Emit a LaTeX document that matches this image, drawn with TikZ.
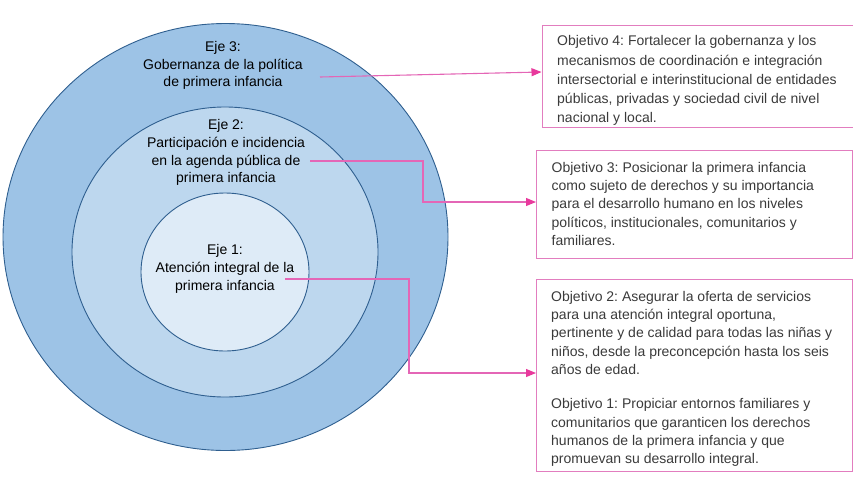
\documentclass[tikz,border=0pt]{standalone}
\usepackage{fontspec}
\setmainfont{Liberation Sans}
\usetikzlibrary{arrows.meta}
\frenchspacing
\definecolor{ring3}{HTML}{9DC3E6}
\definecolor{ring2}{HTML}{BDD7EE}
\definecolor{ring1}{HTML}{DEEBF7}
\definecolor{ringline}{HTML}{2F5F8F}
\definecolor{pinkline}{HTML}{E466B6}
\definecolor{pinktip}{HTML}{E8399C}
\definecolor{boxline}{HTML}{E27DBF}
\definecolor{objtext}{HTML}{3A3A3A}
\tikzset{
  ring/.style={draw=ringline, line width=0.9pt},
  ejetext/.style={align=center, text=black, font=\fontsize{14}{17.8}\selectfont, inner sep=0pt},
  objbox/.style={draw=boxline, line width=0.8pt, anchor=north west, inner sep=0pt},
  objtxt/.style={anchor=west, align=left, text=objtext, font=\fontsize{14}{18.2}\selectfont, inner sep=0pt},
  link/.style={draw=pinkline, line width=1.1pt, -{Triangle[length=10pt,width=8pt,color=pinktip]}}
}
\begin{document}
\begin{tikzpicture}[x=1pt, y=-1pt]
\useasboundingbox (0,0) rectangle (853,480);
% rings
\path[ring, fill=ring3] (225.5,237) ellipse [x radius=222.5, y radius=213.5];
\path[ring, fill=ring2] (225,252) ellipse [x radius=153, y radius=145];
\path[ring, fill=ring1] (225,272) ellipse [x radius=84, y radius=79];
% axis labels
\node[ejetext] (e3) at (223,65.5) {Eje 3:\\Gobernanza de la política\\de primera infancia};
\node[ejetext] (e2) at (226,152.5) {Eje 2:\\Participación e incidencia\\en la agenda pública de\\primera infancia};
\node[ejetext] (e1) at (225,269) {Eje 1:\\Atención integral de la\\primera infancia};
% objective boxes
\node[objbox, minimum width=311pt, minimum height=102pt] (o4) at (541.5,25) {};
\node[objbox, minimum width=316pt, minimum height=108pt] (o3) at (536,150) {};
\node[objbox, minimum width=316pt, minimum height=192pt] (o21) at (536,279) {};
\node[objtxt, font=\fontsize{14}{19.2}\selectfont] (o4t) at ([xshift=15.5pt,yshift=-4.3pt]o4.west)
  {Objetivo 4: Fortalecer la gobernanza y los\\mecanismos de coordinación e integración\\intersectorial e interinstitucional de entidades\\públicas, privadas y sociedad civil de nivel\\nacional y local.};
\node[objtxt] (o3t) at ([xshift=15.5pt,yshift=0.5pt]o3.west)
  {Objetivo 3: Posicionar la primera infancia\\como sujeto de derechos y su importancia\\para el desarrollo humano en los niveles\\políticos, institucionales, comunitarios y\\familiares.};
\node[objtxt] (o21t) at ([xshift=15pt,yshift=-3.5pt]o21.west)
  {Objetivo 2: Asegurar la oferta de servicios\\para una atención integral oportuna,\\pertinente y de calidad para todas las niñas y\\niños, desde la preconcepción hasta los seis\\años de edad.\\[16.5pt]Objetivo 1: Propiciar entornos familiares y\\comunitarios que garanticen los derechos\\humanos de la primera infancia y que\\promuevan su desarrollo integral.};
% connector anchors
\coordinate (s3) at (320,77);
\coordinate (s2) at (310,161);
\coordinate (s1) at (285,279);
\coordinate (t4) at (o4.west |- 0,72);
\coordinate (t3) at (o3.west |- 0,202);
\coordinate (t1) at (o21.west |- 0,373);
% connectors
\draw[link] (s3) -- (t4);
\draw[link] (s2) -- (423,161) -- (423,202) -- (t3);
\draw[link] (s1) -- (409,279) -- (409,373) -- (t1);
\end{tikzpicture}
\end{document}
